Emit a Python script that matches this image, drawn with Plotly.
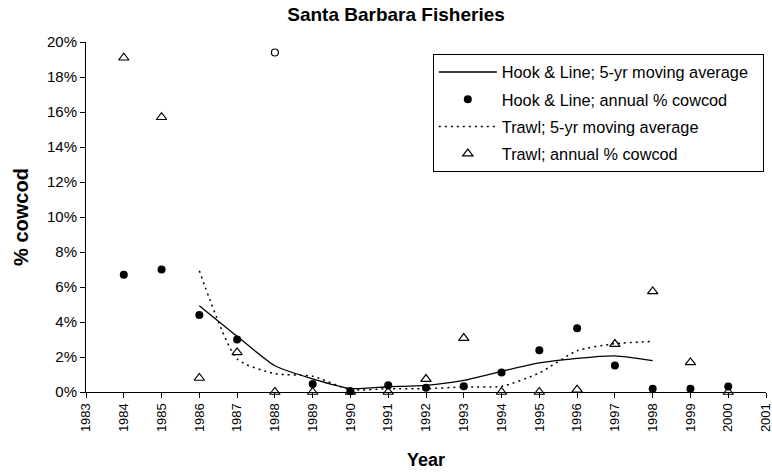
import plotly.graph_objects as go

years = list(range(1984, 2001))
hook_annual = [6.7, 7.0, 4.4, 3.0, None, 0.46, 0.05, 0.38, 0.25, 0.33, 1.12, 2.38, 3.64, 1.52, 0.19, 0.19, 0.32]
hook_outlier_year = [1988]
hook_outlier_val = [19.4]
trawl_annual = [19.1, 15.7, 0.8, 2.26, 0.0, 0.0, 0.0, 0.0, 0.74, 3.08, 0.0, 0.0, 0.13, 2.74, 5.75, 1.69, 0.0]

ma_years = list(range(1986, 1999))
hook_ma = [4.93, 3.18, 1.5, 0.75, 0.2, 0.3, 0.38, 0.66, 1.18, 1.66, 1.92, 2.06, 1.79]
trawl_ma = [6.93, 1.89, 1.05, 0.9, 0.13, 0.19, 0.19, 0.29, 0.32, 1.09, 2.36, 2.76, 2.89]

FONT = "Liberation Sans, Arial, sans-serif"

fig = go.Figure()
fig.add_trace(go.Scatter(x=ma_years, y=hook_ma, mode="lines",
                         name="Hook & Line; 5-yr moving average\u00a0\u00a0",
                         line=dict(color="black", width=1.3, shape="spline", smoothing=0.6),
                         legendgroup="a", cliponaxis=False))
fig.add_trace(go.Scatter(x=years, y=hook_annual, mode="markers", name="Hook & Line; annual % cowcod",
                         marker=dict(symbol="circle", size=8, color="black"),
                         legendgroup="b", cliponaxis=False))
fig.add_trace(go.Scatter(x=ma_years, y=trawl_ma, mode="lines", name="Trawl; 5-yr moving average",
                         line=dict(color="black", width=1.5, dash="2px,4px", shape="spline", smoothing=0.6),
                         legendgroup="c", cliponaxis=False))
fig.add_trace(go.Scatter(x=years, y=trawl_annual, mode="markers", name="Trawl; annual % cowcod",
                         marker=dict(symbol="triangle-up-open", size=9, color="black", line=dict(width=1.2)),
                         legendgroup="d", cliponaxis=False))
fig.add_trace(go.Scatter(x=hook_outlier_year, y=hook_outlier_val, mode="markers", showlegend=False,
                         marker=dict(symbol="circle-open", size=7, color="black", line=dict(width=1.2)),
                         cliponaxis=False))

fig.update_layout(
    width=772, height=473,
    margin=dict(l=86, r=6, t=42, b=81, autoexpand=False),
    paper_bgcolor="white", plot_bgcolor="white",
    font=dict(family=FONT, color="black", size=14),
    title=dict(text="<b>Santa Barbara Fisheries</b>", x=0.513, xref="container", xanchor="center",
               y=0.983, yref="container", yanchor="top", pad=dict(t=0, b=0), font=dict(size=19)),
    showlegend=True,
    legend=dict(x=0.510, y=0.966, xanchor="left", yanchor="top", bgcolor="white",
                bordercolor="black", borderwidth=1, font=dict(size=16.3),
                traceorder="grouped", tracegroupgap=3, itemwidth=58),
    xaxis=dict(range=[1983, 2001], dtick=1, tick0=1983, tickangle=-90, showgrid=False, zeroline=False,
               showline=True, linecolor="black", linewidth=1, ticks="outside", ticklen=5, tickcolor="black",
               tickfont=dict(size=13), ticklabeloverflow="allow",
               title=dict(text="<b>Year</b>", font=dict(size=18), standoff=22)),
    yaxis=dict(range=[0, 20], dtick=2, ticksuffix="%", showgrid=False, zeroline=False,
               showline=True, linecolor="black", linewidth=1, ticks="outside", ticklen=5, tickcolor="black",
               tickfont=dict(size=15),
               title=dict(text="<b>% cowcod</b>", font=dict(size=20), standoff=12)),
)

fig.write_html("out.html", config={"displayModeBar": False},
               post_script="document.body.style.margin='0px';document.body.style.overflow='hidden';")
